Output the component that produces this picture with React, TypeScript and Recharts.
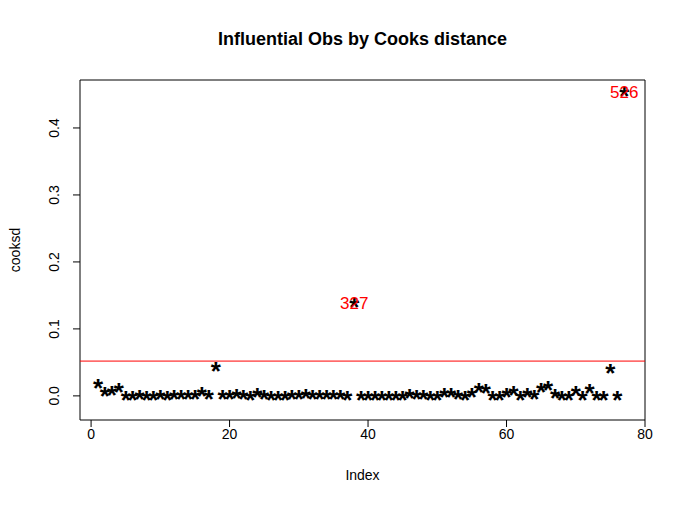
import { ComposedChart, Scatter, XAxis, YAxis, ReferenceLine, ReferenceArea } from "recharts";

const cooksd = [
  0.017, 0.006, 0.008, 0.012, 0, 0, 0.001, 0, 0, 0.002,
  0, 0.001, 0.001, 0.002, 0.002, 0.006, 0.002, 0.043, 0.002, 0.002,
  0.003, 0.002, 0, 0.004, 0.002, 0, 0, 0, 0.001, 0.002,
  0.003, 0.001, 0.002, 0.002, 0.001, 0.001, 0, 0.138, 0, 0,
  0, 0, 0, 0, 0, 0.003, 0.002, 0.002, 0, 0,
  0.005, 0.004, 0.001, 0, 0.005, 0.012, 0.011, 0, 0, 0.004,
  0.008, 0, 0.005, 0.002, 0.012, 0.015, 0.003, 0, 0, 0.007,
  0, 0.01, 0, 0, 0.04, 0, 0.453,
];
const influentialIdx = [38, 77];
const influentialNames = ["327", "526"];
const cutoff = 4 / cooksd.length;
const xTicks = [0, 20, 40, 60, 80];
const yTicks = [0, 0.1, 0.2, 0.3, 0.4];

const points = cooksd.map((v, i) => ({ x: i + 1, y: v }));
const labels = influentialIdx.map((idx, i) => ({ x: idx, y: cooksd[idx - 1], name: influentialNames[i] }));

const Star = (p: any) => (
  <text x={p.cx} y={p.cy + 13} textAnchor="middle" fontSize={26} fontWeight="bold" fontFamily="Arial" fill="#000">*</text>
);
const RedLabel = (p: any) => (
  <text x={p.cx} y={p.cy + 6} textAnchor="middle" fontSize={17} fontFamily="Arial" fill="#ff0000">{p.payload.name}</text>
);
const YTick = (p: any) => (
  <text x={p.x - 12} y={p.y} transform={`rotate(-90 ${p.x - 12} ${p.y})`} textAnchor="middle" fontSize={14} fontFamily="Arial">
    {p.payload.value.toFixed(1)}
  </text>
);

export default function App() {
  return (
    <div style={{ position: "fixed", left: 0, top: 0, width: 686, height: 506, background: "#fff", fontFamily: "Arial" }}>
      <ComposedChart width={686} height={506} margin={{ top: 80, left: 0, right: 41, bottom: 0 }}>
        <XAxis type="number" dataKey="x" domain={[-1.6, 80]} ticks={xTicks} axisLine={false} tickSize={7}
          tick={{ fontSize: 14, fill: "#000", fontFamily: "Arial" }} stroke="#000" height={86} allowDataOverflow />
        <YAxis type="number" dataKey="y" domain={[-0.036, 0.4716]} ticks={yTicks} axisLine={false} tickSize={7}
          tick={<YTick />} stroke="#000" width={80} allowDataOverflow />
        <ReferenceArea x1={-1.6} x2={80} y1={-0.036} y2={0.4716} fill="none" stroke="#000" strokeWidth={1} />
        <ReferenceLine y={cutoff} stroke="#ff0000" strokeWidth={1} />
        <Scatter data={points} shape={<Star />} isAnimationActive={false} />
        <Scatter data={labels} shape={<RedLabel />} isAnimationActive={false} />
      </ComposedChart>
      <div style={{ position: "absolute", top: 29, left: 80, width: 565, textAlign: "center", fontWeight: "bold", fontSize: 18 }}>
        Influential Obs by Cooks distance
      </div>
      <div style={{ position: "absolute", top: 467, left: 80, width: 565, textAlign: "center", fontSize: 14 }}>Index</div>
      <div style={{ position: "absolute", top: 250, left: 15, transform: "translate(-50%, -50%) rotate(-90deg)", fontSize: 14 }}>cooksd</div>
    </div>
  );
}
